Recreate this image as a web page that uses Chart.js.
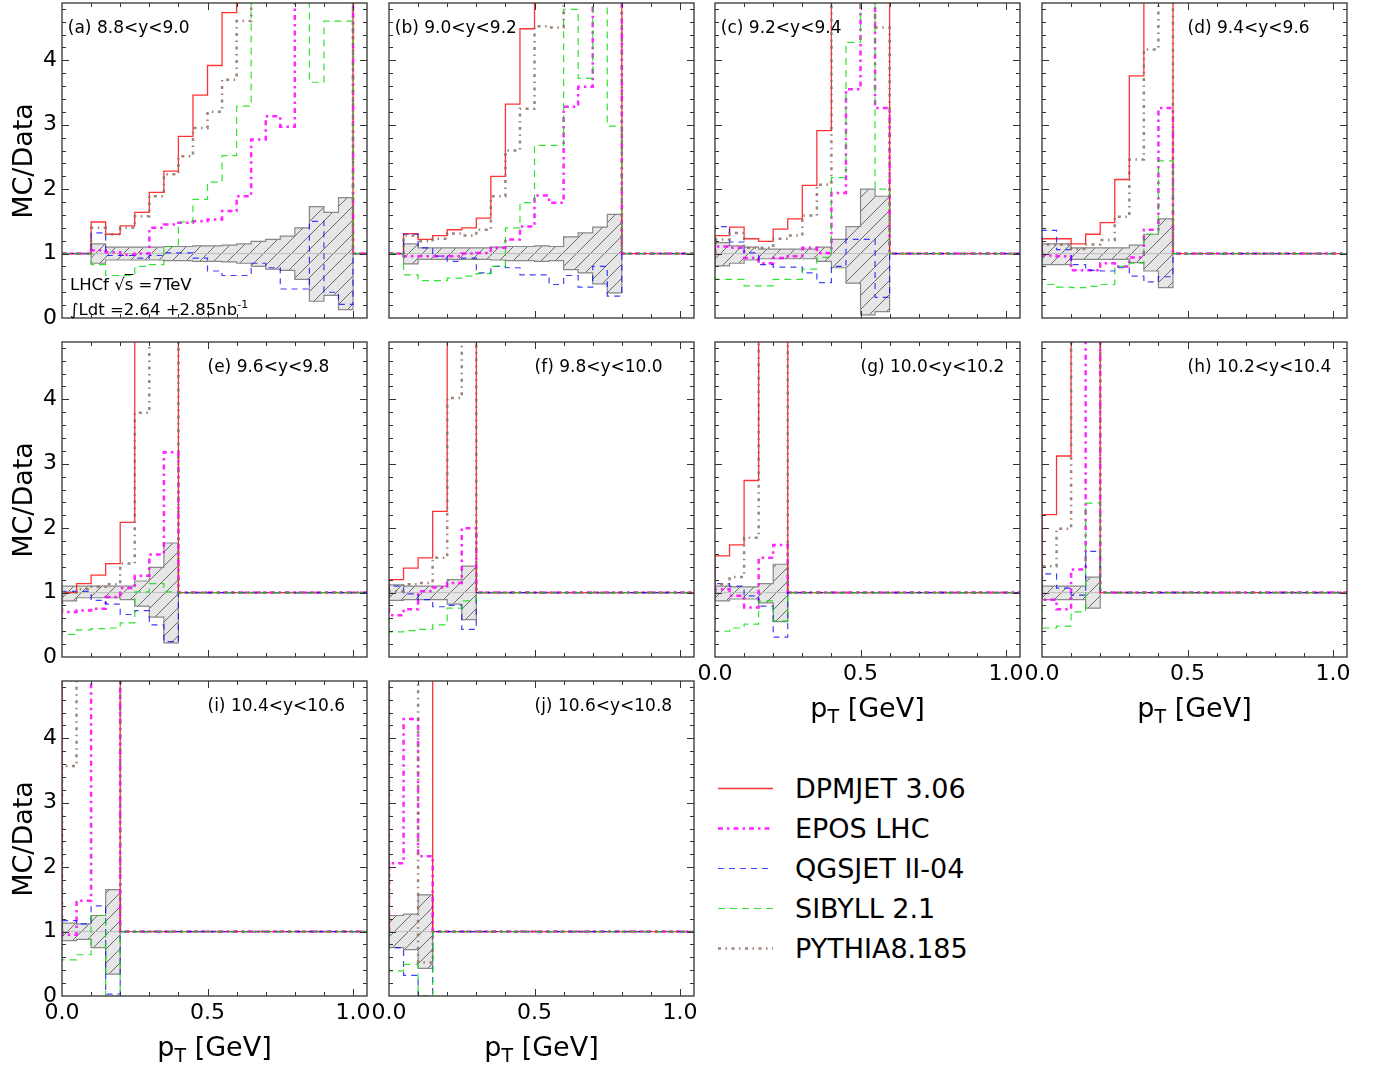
<!DOCTYPE html>
<html>
<head>
<meta charset="utf-8">
<script src="https://cdn.jsdelivr.net/npm/chart.js@4.4.0/dist/chart.umd.min.js"></script>
<style>
  body { margin: 0; background: #fff; }
  #page { position: relative; width: 1393px; height: 1069px; overflow: hidden; font-family: "DejaVu Sans", sans-serif; color: #000; }
  #page canvas { position: absolute; }
  .txt { position: absolute; white-space: nowrap; transform: translate(-50%, -50%); }
  .lhcf { position: absolute; white-space: nowrap; font-size: 16.5px; line-height: 20px; }
</style>
</head>
<body>
<div id="page"></div>
<script>
// panel titles (rapidity bins)
const panelTags = ["(a) 8.8<y<9.0", "(b) 9.0<y<9.2", "(c) 9.2<y<9.4", "(d) 9.4<y<9.6", "(e) 9.6<y<9.8",
                   "(f) 9.8<y<10.0", "(g) 10.0<y<10.2", "(h) 10.2<y<10.4", "(i) 10.4<y<10.6", "(j) 10.6<y<10.8"];

// pT binning: first bin edge per panel, fixed width
const binWidth = 0.05;
const binStart = [0.10, 0.05, 0, 0, 0, 0, 0, 0, 0, 0];

const modelNames = ["DPMJET 3.06", "EPOS LHC", "QGSJET II-04", "SIBYLL 2.1", "PYTHIA8.185"];

// MC/Data ratio per bin (values above the frame are off scale)
const dpmjet = [
  [1.49, 1.30, 1.43, 1.64, 1.95, 2.28, 2.82, 3.46, 3.92, 4.74, 5.4, 6.0, 6.6, 7.2, 7.8, 8.4, 9.0, 9.6],
  [1.31, 1.22, 1.28, 1.37, 1.40, 1.55, 2.20, 3.32, 4.49, 5.2, 5.8, 6.4, 7.0, 7.6, 8.2],
  [1.28, 1.41, 1.23, 1.19, 1.38, 1.54, 2.06, 2.91, 5.5, 6.5, 7.5, 8.5],
  [1.23, 1.23, 1.15, 1.30, 1.48, 2.15, 3.76, 5.6, 7.0],
  [1.00, 1.14, 1.27, 1.45, 2.09, 5.5, 7.0, 8.5],
  [1.20, 1.38, 1.54, 2.26, 5.5, 7.5],
  [1.57, 1.74, 2.74, 5.5, 7.5],
  [2.21, 3.12, 5.5, 7.5],
  [5.5, 6.5, 7.5, 8.5],
  [6.0, 7.0, 8.0]
];
const epos = [
  [1.05, 1.02, 0.98, 1.00, 1.40, 1.45, 1.48, 1.50, 1.53, 1.66, 1.89, 2.77, 3.13, 2.97, 5.5, 6.0, 6.5, 7.0],
  [0.96, 0.96, 0.96, 0.96, 1.00, 1.01, 1.09, 1.22, 1.42, 1.90, 1.79, 3.28, 3.59, 5.5, 5.8],
  [1.11, 1.09, 0.93, 0.85, 0.93, 0.96, 1.09, 1.01, 1.94, 3.55, 5.3, 3.26],
  [0.97, 0.96, 0.74, 0.74, 0.85, 0.80, 0.94, 1.37, 3.26],
  [0.70, 0.72, 0.75, 0.93, 1.07, 1.26, 1.59, 3.18],
  [0.65, 0.74, 1.02, 1.08, 1.15, 2.00],
  [1.05, 0.95, 0.77, 1.54, 1.74],
  [0.89, 0.74, 1.36, 5.5],
  [0.95, 1.48, 5.5, 6.0],
  [2.06, 4.30, 2.17]
];
const qgsjet = [
  [1.32, 0.97, 0.97, 0.93, 0.97, 1.01, 1.01, 0.93, 0.73, 0.66, 0.66, 0.85, 0.78, 0.45, 0.45, 1.50, 0.40, 0.21],
  [1.30, 1.09, 0.96, 0.88, 0.93, 0.70, 0.80, 0.78, 0.67, 0.67, 0.52, 0.66, 0.48, 0.80, 0.34],
  [1.42, 1.18, 1.01, 0.83, 0.79, 0.79, 0.70, 0.55, 0.80, 1.22, 1.22, 0.32],
  [1.36, 1.06, 0.83, 0.74, 0.73, 0.78, 0.65, 0.56, 0.64],
  [1.02, 1.02, 0.88, 0.82, 0.66, 0.72, 0.50, 0.24],
  [1.10, 0.98, 0.89, 0.78, 0.80, 0.43],
  [1.14, 1.10, 0.95, 0.79, 0.31],
  [1.29, 1.07, 0.96, 1.64],
  [1.17, 1.12, 1.40, 0.03],
  [0.75, 0.32, 0.0]
];
const sibyll = [
  [0.83, 0.66, 0.66, 0.80, 0.83, 1.11, 1.49, 1.84, 2.11, 2.52, 3.29, 5.3, 5.8, 6.2, 6.0, 3.66, 4.61, 4.61],
  [0.67, 0.58, 0.58, 0.62, 0.65, 0.69, 0.80, 1.40, 1.79, 2.68, 2.68, 4.79, 3.72, 5.5, 2.98],
  [0.60, 0.60, 0.50, 0.50, 0.60, 0.60, 0.76, 0.94, 2.18, 4.28, 5.5, 2.00],
  [0.52, 0.48, 0.47, 0.49, 0.52, 0.80, 0.85, 1.30, 2.44],
  [0.35, 0.42, 0.44, 0.45, 0.53, 1.01, 1.14, 1.01],
  [0.39, 0.41, 0.43, 0.50, 0.76, 0.87],
  [0.40, 0.45, 0.51, 0.87, 0.56],
  [0.45, 0.48, 0.70, 2.39],
  [0.56, 0.64, 1.25, 0.0],
  [0.39, 0.49, 0.0]
];
const pythia = [
  [1.40, 1.30, 1.40, 1.58, 1.89, 2.23, 2.51, 2.95, 3.20, 3.70, 4.61, 5.4, 5.9, 6.4, 6.9, 7.4, 7.9, 8.4],
  [1.28, 1.19, 1.23, 1.31, 1.28, 1.37, 1.89, 2.60, 3.25, 4.53, 4.51, 5.2, 5.8, 6.3, 6.8],
  [1.22, 1.32, 1.09, 1.09, 1.23, 1.28, 1.59, 2.07, 5.5, 6.0, 5.6, 4.51],
  [1.14, 1.14, 1.07, 1.14, 1.21, 1.57, 2.46, 4.17, 5.8],
  [1.00, 1.05, 1.09, 1.13, 1.45, 3.79, 5.5, 6.5],
  [1.02, 1.13, 1.15, 1.54, 4.02, 5.6],
  [1.13, 1.24, 1.85, 5.5, 6.5],
  [1.41, 1.99, 5.5, 6.5],
  [3.57, 5.5, 6.5, 7.0],
  [5.5, 6.0, 0.52]
];

// experimental uncertainty band around 1
const errHigh = [
  [1.15, 1.10, 1.10, 1.10, 1.10, 1.11, 1.11, 1.12, 1.12, 1.13, 1.15, 1.19, 1.22, 1.27, 1.40, 1.73, 1.64, 1.87],
  [1.15, 1.09, 1.09, 1.09, 1.09, 1.09, 1.10, 1.11, 1.11, 1.12, 1.11, 1.26, 1.32, 1.41, 1.61],
  [1.17, 1.12, 1.10, 1.07, 1.07, 1.07, 1.07, 1.10, 1.22, 1.42, 2.00, 1.89],
  [1.15, 1.15, 1.09, 1.09, 1.09, 1.09, 1.13, 1.30, 1.54],
  [1.10, 1.10, 1.10, 1.10, 1.10, 1.18, 1.39, 1.77],
  [1.12, 1.10, 1.10, 1.10, 1.20, 1.41],
  [1.10, 1.09, 1.09, 1.14, 1.44],
  [1.10, 1.10, 1.10, 1.24],
  [1.13, 1.12, 1.25, 1.65],
  [1.25, 1.27, 1.57]
];
const errLow = [
  [0.85, 0.90, 0.90, 0.90, 0.90, 0.89, 0.89, 0.88, 0.88, 0.87, 0.85, 0.80, 0.76, 0.74, 0.60, 0.26, 0.35, 0.13],
  [0.84, 0.91, 0.91, 0.91, 0.91, 0.91, 0.90, 0.89, 0.89, 0.88, 0.89, 0.75, 0.70, 0.53, 0.39],
  [0.81, 0.85, 0.90, 0.92, 0.92, 0.92, 0.92, 0.88, 0.78, 0.54, 0.05, 0.10],
  [0.83, 0.83, 0.91, 0.91, 0.91, 0.91, 0.86, 0.73, 0.47],
  [0.87, 0.92, 0.92, 0.92, 0.89, 0.79, 0.62, 0.22],
  [0.88, 0.89, 0.89, 0.89, 0.82, 0.58],
  [0.87, 0.90, 0.90, 0.84, 0.55],
  [0.89, 0.89, 0.89, 0.76],
  [0.86, 0.88, 0.75, 0.34],
  [0.75, 0.72, 0.43]
];

const X_MAX = 1.048;
const Y_MAX = 4.89;
const FONT = '"DejaVu Sans"';

const modelStyles = [
  { color: "rgba(255,0,0,0.8)", width: 1.3, dash: [] },
  { color: "rgba(255,0,255,0.85)", width: 2.5, dash: [5, 4, 2.5, 4] },
  { color: "rgba(0,0,255,0.75)", width: 1.2, dash: [6, 5] },
  { color: "rgba(0,220,0,0.8)", width: 1.2, dash: [7, 5] },
  { color: "rgba(140,112,98,0.85)", width: 2.5, dash: [3, 4.5, 1.5, 4.5] }
];
const models = [dpmjet, epos, qgsjet, sibyll, pythia];

// layout: plot-area boxes, scale boxes around them
const colLeft = [62, 389, 715, 1042];
const rowTop = [3, 342, 681];
const PW = 305, PH = 315;
const PAD = { left: 12, right: 40, top: 20, bottom: 10 };
const Y_BOX = 48, X_BOX = 36;

const page = document.getElementById("page");

function hatch() {
  const c = document.createElement("canvas");
  c.width = c.height = 14;
  const g = c.getContext("2d");
  g.fillStyle = "#e6e6e6";
  g.fillRect(0, 0, 14, 14);
  g.strokeStyle = "#5a5a5a";
  g.lineWidth = 0.9;
  g.beginPath();
  g.moveTo(0, 14); g.lineTo(14, 0);
  g.moveTo(-2, 2); g.lineTo(2, -2);
  g.moveTo(12, 16); g.lineTo(16, 12);
  g.stroke();
  return g.createPattern(c, "repeat");
}

function stepPoints(start, vals) {
  const pts = [{ x: 0, y: 1 }];
  vals.forEach((v, i) => pts.push({ x: start + i * binWidth, y: v }));
  pts.push({ x: start + vals.length * binWidth, y: 1 });
  pts.push({ x: X_MAX, y: 1 });
  return pts;
}

function bandPoints(start, vals) {
  const pts = [{ x: start, y: 1 }];
  vals.forEach((v, i) => pts.push({ x: start + i * binWidth, y: v }));
  pts.push({ x: start + vals.length * binWidth, y: 1 });
  return pts;
}

// frame, inward ticks on all sides and the panel tag
const framePlugin = {
  id: "frame",
  afterDatasetsDraw(chart, args, opts) {
    const { ctx, chartArea: a, scales: { x, y } } = chart;
    ctx.save();
    ctx.strokeStyle = "#333";
    ctx.lineWidth = 1.3;
    ctx.strokeRect(a.left, a.top, a.width, a.height);
    ctx.lineWidth = 1;
    ctx.beginPath();
    for (let k = 1; k * 0.2 < Y_MAX; k++) {
      const py = Math.round(y.getPixelForValue(k * 0.2)) + 0.5;
      const len = k % 5 === 0 ? 7 : 4;
      ctx.moveTo(a.left, py); ctx.lineTo(a.left + len, py);
      ctx.moveTo(a.right, py); ctx.lineTo(a.right - len, py);
    }
    for (let k = 1; k * 0.1 < X_MAX; k++) {
      const px = Math.round(x.getPixelForValue(k * 0.1)) + 0.5;
      const len = k % 5 === 0 ? 7 : 4;
      ctx.moveTo(px, a.bottom); ctx.lineTo(px, a.bottom - len);
      ctx.moveTo(px, a.top); ctx.lineTo(px, a.top + len);
    }
    ctx.stroke();
    ctx.fillStyle = "#000";
    ctx.font = "17px " + FONT;
    ctx.textAlign = "left";
    ctx.textBaseline = "middle";
    ctx.fillText(opts.tag, x.getPixelForValue(opts.tagX), y.getPixelForValue(4.5));
    ctx.restore();
  }
};

function makePanel(p) {
  const row = Math.floor(p / 4), col = p % 4;
  const showX = (row === 2) || (row === 1 && col >= 2);
  const showY = col === 0;
  const canvas = document.createElement("canvas");
  canvas.width = PW + PAD.left + Y_BOX + PAD.right;
  canvas.height = PH + PAD.top + X_BOX + PAD.bottom;
  canvas.style.left = (colLeft[col] - PAD.left - Y_BOX) + "px";
  canvas.style.top = (rowTop[row] - PAD.top) + "px";
  page.appendChild(canvas);

  const start = binStart[p];
  const datasets = [];
  datasets.push({
    data: bandPoints(start, errHigh[p]), stepped: true, fill: "+1",
    backgroundColor: hatch(), borderColor: "#888", borderWidth: 1.2, order: 20
  });
  datasets.push({
    data: bandPoints(start, errLow[p]), stepped: true, fill: false,
    borderColor: "#888", borderWidth: 1.2, order: 19
  });
  datasets.push({
    data: bandPoints(start, errHigh[p].map(() => 1)), stepped: true, fill: false,
    borderColor: "#bdbdbd", borderWidth: 1, order: 18
  });
  models.forEach((m, k) => {
    const s = modelStyles[k];
    datasets.push({
      data: stepPoints(start, m[p]), stepped: true, fill: false,
      borderColor: s.color, borderWidth: s.width, borderDash: s.dash, order: 10 - k
    });
  });

  new Chart(canvas, {
    type: "line",
    data: { datasets },
    plugins: [framePlugin],
    options: {
      responsive: false,
      animation: false,
      events: [],
      layout: { padding: PAD },
      elements: { point: { radius: 0 }, line: { tension: 0 } },
      plugins: {
        legend: { display: false },
        tooltip: { enabled: false },
        frame: { tag: panelTags[p], tagX: p < 3 ? 0.02 : 0.5 }
      },
      scales: {
        x: {
          type: "linear", min: 0, max: X_MAX,
          grid: { display: false, drawTicks: false }, border: { display: false },
          ticks: {
            display: showX, stepSize: 0.5, includeBounds: false, autoSkip: false, maxRotation: 0,
            padding: 4, color: "#000", font: { family: FONT, size: 22 },
            callback: v => v.toFixed(1)
          },
          afterFit: s => { s.height = X_BOX; }
        },
        y: {
          min: 0, max: Y_MAX,
          grid: { display: false, drawTicks: false }, border: { display: false },
          ticks: {
            display: showY, stepSize: 1, includeBounds: false, padding: 5,
            color: "#000", font: { family: FONT, size: 22 },
            callback: v => String(v)
          },
          afterFit: s => { s.width = Y_BOX; }
        }
      }
    }
  });
}

for (let p = 0; p < panelTags.length; p++) makePanel(p);

function addText(html, x, y, size, extra) {
  const d = document.createElement("div");
  d.className = "txt";
  d.innerHTML = html;
  d.style.left = x + "px";
  d.style.top = y + "px";
  d.style.fontSize = size + "px";
  if (extra) d.style.transform = "translate(-50%, -50%) " + extra;
  page.appendChild(d);
}

// axis titles
rowTop.forEach(t => addText("MC/Data", 22, t + PH / 2, 27, "rotate(-90deg)"));
const ptTitle = 'p<sub style="font-size:19px;vertical-align:-6px">T</sub> [GeV]';
addText(ptTitle, colLeft[0] + PW / 2, 1048, 27);
addText(ptTitle, colLeft[1] + PW / 2, 1048, 27);
addText(ptTitle, colLeft[2] + PW / 2, 709, 27);
addText(ptTitle, colLeft[3] + PW / 2, 709, 27);

// LHCf annotation in panel (a)
const note = document.createElement("div");
note.className = "lhcf";
note.style.left = "70px";
note.style.top = "275px";
note.innerHTML = 'LHCf &radic;<span style="text-decoration:overline">s</span> =7TeV<br>' +
  '&int;Ldt =2.64 +2.85nb<sup style="font-size:11px;vertical-align:7px">-1</sup>';
page.appendChild(note);

// legend
const lg = document.createElement("canvas");
lg.width = 70; lg.height = 200;
lg.style.left = "712px"; lg.style.top = "768px";
page.appendChild(lg);
const lctx = lg.getContext("2d");
modelNames.forEach((name, k) => {
  const s = modelStyles[k];
  const yy = 20 + k * 40;
  lctx.strokeStyle = s.color;
  lctx.lineWidth = s.width;
  lctx.setLineDash(s.dash);
  lctx.beginPath();
  lctx.moveTo(6, yy + 0.5);
  lctx.lineTo(61, yy + 0.5);
  lctx.stroke();
  const t = document.createElement("div");
  t.className = "txt";
  t.style.transform = "translate(0, -50%)";
  t.style.left = "795px";
  t.style.top = (788 + k * 40) + "px";
  t.style.fontSize = "27px";
  t.textContent = name;
  page.appendChild(t);
});
</script>
</body>
</html>
